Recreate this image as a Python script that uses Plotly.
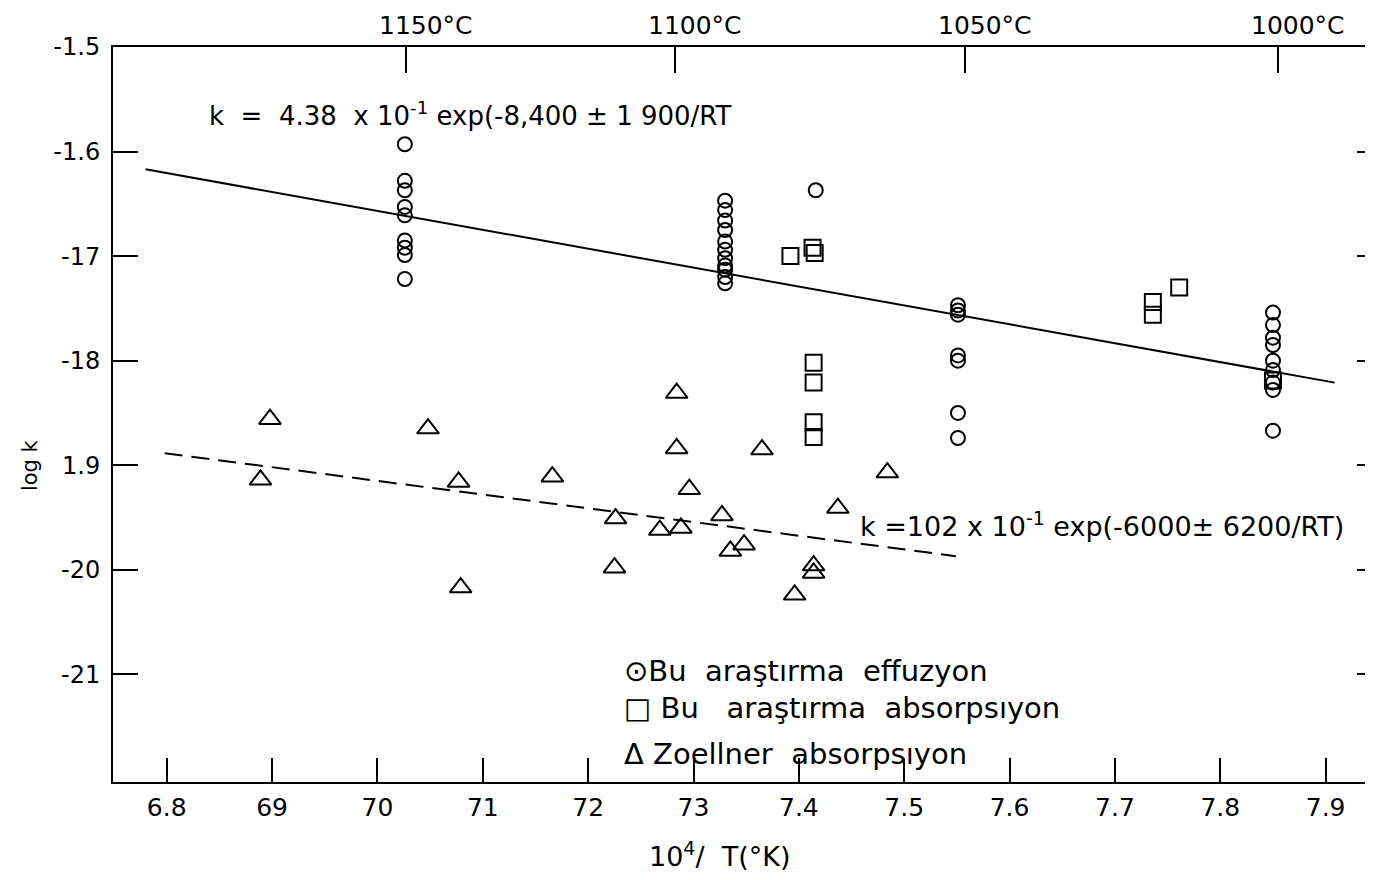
import plotly.graph_objects as go

# ---------------- data ----------------
# Bu arastirma effuzyon (circles)
eff_x = [7.026]*9 + [7.330]*11 + [7.416] + [7.551]*7 + [7.850]*9
eff_y = [-15.93, -16.28, -16.37, -16.53, -16.61, -16.85, -16.92, -16.99, -17.22,
         -16.47, -16.56, -16.66, -16.75, -16.86, -16.94, -17.02, -17.09, -17.13, -17.20, -17.26,
         -16.37,
         -17.47, -17.52, -17.56, -17.95, -18.00, -18.50, -18.74,
         -17.54, -17.66, -17.78, -17.85, -18.00, -18.09, -18.21, -18.28, -18.67]

# Bu arastirma absorpsiyon (squares)
abs_x = [7.392, 7.413, 7.415, 7.414, 7.414, 7.414, 7.414, 7.736, 7.736, 7.761, 7.850]
abs_y = [-17.00, -16.92, -16.97, -18.02, -18.21, -18.59, -18.73, -17.44, -17.56, -17.30, -18.19]

# Zoellner absorpsiyon (triangles)
zoe_x = [6.898, 6.889, 7.048, 7.077, 7.079, 7.166, 7.226, 7.225, 7.284, 7.284, 7.268,
         7.288, 7.296, 7.327, 7.335, 7.348, 7.365, 7.396, 7.414, 7.414, 7.437, 7.484]
zoe_y = [-18.56, -19.14, -18.65, -19.16, -20.17, -19.11, -19.51, -19.98, -18.31, -18.84, -19.62,
         -19.60, -19.23, -19.48, -19.82, -19.76, -18.85, -20.24, -19.96, -20.03, -19.41, -19.07]

# fitted lines
fit1_x = [6.780, 7.9085]
fit1_y = [-16.17, -18.21]
fit2_x = [6.798, 7.549]
fit2_y = [-18.885, -19.87]

# axes
x_tickvals = [6.8, 6.9, 7.0, 7.1, 7.2, 7.3, 7.4, 7.5, 7.6, 7.7, 7.8, 7.9]
x_ticktext = ["6.8", "69", "70", "71", "72", "73", "7.4", "7.5", "7.6", "7.7", "7.8", "7.9"]
y_tickvals = [-15, -16, -17, -18, -19, -20, -21]
y_ticktext = ["-1.5", "-1.6", "-17", "-18", "1.9", "-20", "-21"]
temps_c = [1150, 1100, 1050, 1000]
temp_labels = ["1150°C", "1100°C", "1050°C", "1000°C"]
temp_x = [1e4 / (t + 273.15) for t in temps_c]

# legend lines written inside the plot
legend_lines = ["⊙Bu  araştırma  effuzyon",
                "□ Bu   araştırma  absorpsıyon",
                "Δ Zoellner  absorpsıyon"]
legend_row_y = [-20.97, -21.32, -21.76]

X_RANGE = [6.749, 7.944]
Y_RANGE = [-22.03, -15.0]

FONT = "DejaVu Sans"

fig = go.Figure()

fig.add_trace(go.Scatter(x=fit1_x, y=fit1_y, mode="lines",
                         line=dict(color="black", width=2), showlegend=False, hoverinfo="skip"))
fig.add_trace(go.Scatter(x=fit2_x, y=fit2_y, mode="lines",
                         line=dict(color="black", width=2, dash="18px,9px"),
                         showlegend=False, hoverinfo="skip"))
fig.add_trace(go.Scatter(x=eff_x, y=eff_y, mode="markers", name="Bu araştırma effuzyon",
                         marker=dict(symbol="circle-open", size=14, color="black",
                                     line=dict(width=2, color="black")), showlegend=False))
fig.add_trace(go.Scatter(x=abs_x, y=abs_y, mode="markers", name="Bu araştırma absorpsıyon",
                         marker=dict(symbol="square-open", size=16, color="black",
                                     line=dict(width=2, color="black")), showlegend=False))
fig.add_trace(go.Scatter(x=zoe_x, y=zoe_y, mode="markers", name="Zoellner absorpsıyon",
                         marker=dict(symbol="triangle-up-open", size=19, color="black",
                                     line=dict(width=2, color="black")), showlegend=False))
# invisible trace to activate the top / right axes
fig.add_trace(go.Scatter(x=[X_RANGE[0]], y=[Y_RANGE[0]], xaxis="x2", yaxis="y2",
                         mode="markers", marker=dict(opacity=0), showlegend=False, hoverinfo="skip"))

annotations = []
for tx, tl in zip(temp_x, temp_labels):
    annotations.append(dict(x=tx, y=1.0, xref="x", yref="paper", text=tl, showarrow=False,
                            xanchor="center", yanchor="bottom", xshift=20, yshift=5,
                            font=dict(family=FONT, size=25, color="black")))

annotations += [
    dict(x=6.838, y=-15.64, xref="x", yref="y", xanchor="left", yanchor="middle",
         text="k  =  4.38  x 10<sup>-1</sup> exp(-8,400 ± 1 900/RT", showarrow=False,
         font=dict(family=FONT, size=26, color="black")),
    dict(x=7.456, y=-19.57, xref="x", yref="y", xanchor="left", yanchor="middle",
         text="k =102 x 10<sup>-1</sup> exp(-6000± 6200/RT)", showarrow=False,
         font=dict(family=FONT, size=27, color="black")),
    dict(x=0.482, y=-0.099, xref="paper", yref="paper", xanchor="center", yanchor="middle",
         text="10<sup>4</sup>/  T(°K)", showarrow=False,
         font=dict(family=FONT, size=27, color="black")),
    dict(x=-0.066, y=0.431, xref="paper", yref="paper", xanchor="center", yanchor="middle",
         text="log k", textangle=-90, showarrow=False,
         font=dict(family=FONT, size=21, color="black")),
]
for line, ry in zip(legend_lines, legend_row_y):
    annotations.append(dict(x=7.232, y=ry, xref="x", yref="y", xanchor="left", yanchor="middle",
                            text=line, showarrow=False,
                            font=dict(family=FONT, size=29, color="black")))

# the page body adds an 8px margin, so size and margins are reduced by it
fig.update_layout(
    width=1365, height=872,
    margin=dict(l=105, r=1, t=39, b=98),
    paper_bgcolor="white", plot_bgcolor="white",
    font=dict(family=FONT, color="black"),
    showlegend=False,
    xaxis=dict(range=X_RANGE, tickvals=x_tickvals, ticktext=x_ticktext,
               ticks="inside", ticklen=24, tickwidth=2, tickcolor="black",
               showline=True, linecolor="black", linewidth=2, showgrid=False, zeroline=False,
               tickfont=dict(family=FONT, size=25, color="black"), ticklabelstandoff=2),
    xaxis2=dict(range=X_RANGE, overlaying="x", side="top", tickvals=temp_x,
                showticklabels=False, ticks="inside", ticklen=26, tickwidth=2, tickcolor="black",
                showline=True, linecolor="black", linewidth=2, showgrid=False, zeroline=False),
    yaxis=dict(range=Y_RANGE, tickvals=y_tickvals, ticktext=y_ticktext,
               ticks="inside", ticklen=25, tickwidth=2, tickcolor="black",
               showline=True, linecolor="black", linewidth=2, showgrid=False, zeroline=False,
               tickfont=dict(family=FONT, size=24, color="black"), ticklabelstandoff=6),
    yaxis2=dict(range=Y_RANGE, overlaying="y", side="right", tickvals=y_tickvals,
                showticklabels=False, ticks="inside", ticklen=15, tickwidth=2, tickcolor="black",
                showline=True, linecolor="black", linewidth=2, showgrid=False, zeroline=False),
    annotations=annotations,
)

fig.write_html("out.html")
